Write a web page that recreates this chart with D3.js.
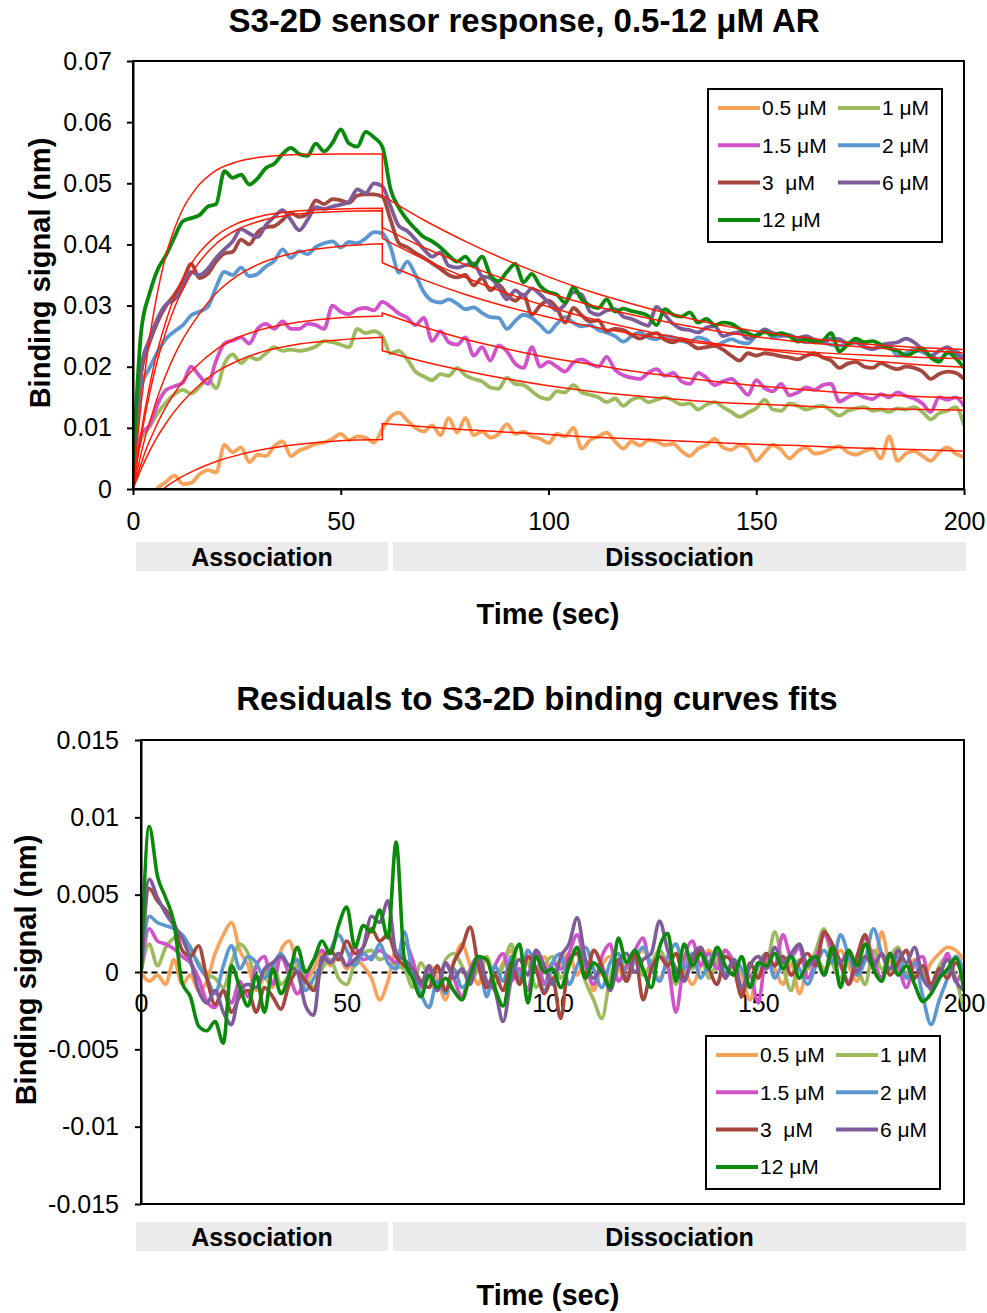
<!DOCTYPE html>
<html>
<head>
<meta charset="utf-8">
<script src="https://cdnjs.cloudflare.com/ajax/libs/d3/7.8.5/d3.min.js"></script>
<style>
  body { margin: 0; background: #fff; }
  svg { font-family: "Liberation Sans", Arial, sans-serif; }
</style>
</head>
<body>
<script>
// Concentrations and legend labels
let concLabels = ["0.5 μM", "1 μM", "1.5 μM", "2 μM", "3  μM", "6 μM", "12 μM"];

// Sample times (sec) for the measured traces and residuals
let sampleTimes = [0,2,4,6,8,10,12,14,16,18,20,22,24,26,28,30,32,34,36,38,
  40,42,44,46,48,50,52,54,56,58,60,62,64,66,68,70,72,74,76,78,
  80,82,84,86,88,90,92,94,96,98,100,102,104,106,108,110,112,114,116,118,
  120,122,124,126,128,130,132,134,136,138,140,142,144,146,148,150,152,154,156,158,
  160,162,164,166,168,170,172,174,176,178,180,182,184,186,188,190,192,194,196,198,200];

let resp05 = [-0.0040,-0.0030,-0.0015,0.0002,0.0012,0.0022,0.0008,0.0010,0.0024,0.0031,
  0.0027,0.0072,0.0060,0.0068,0.0044,0.0056,0.0054,0.0070,0.0078,0.0054,
  0.0063,0.0068,0.0074,0.0076,0.0082,0.0090,0.0080,0.0086,0.0084,0.0076,
  0.0098,0.0118,0.0125,0.0112,0.0100,0.0094,0.0104,0.0088,0.0116,0.0092,
  0.0116,0.0088,0.0094,0.0084,0.0090,0.0106,0.0090,0.0094,0.0086,0.0082,
  0.0075,0.0090,0.0086,0.0100,0.0066,0.0080,0.0086,0.0092,0.0078,0.0066,
  0.0078,0.0071,0.0080,0.0078,0.0072,0.0074,0.0062,0.0054,0.0066,0.0072,
  0.0082,0.0068,0.0064,0.0072,0.0066,0.0046,0.0060,0.0072,0.0064,0.0050,
  0.0062,0.0068,0.0058,0.0060,0.0066,0.0070,0.0060,0.0056,0.0062,0.0066,
  0.0050,0.0086,0.0046,0.0058,0.0062,0.0054,0.0046,0.0060,0.0068,0.0058,
  0.0052];
let resp1 = [0.0030,0.0082,0.0102,0.0125,0.0142,0.0155,0.0162,0.0156,0.0167,0.0180,
  0.0165,0.0205,0.0220,0.0206,0.0216,0.0212,0.0222,0.0232,0.0226,0.0228,
  0.0226,0.0228,0.0233,0.0242,0.0240,0.0236,0.0232,0.0262,0.0255,0.0258,
  0.0250,0.0222,0.0226,0.0212,0.0192,0.0184,0.0178,0.0188,0.0185,0.0198,
  0.0186,0.0180,0.0176,0.0166,0.0164,0.0182,0.0172,0.0170,0.0160,0.0150,
  0.0147,0.0160,0.0158,0.0170,0.0158,0.0154,0.0150,0.0142,0.0148,0.0136,
  0.0146,0.0150,0.0142,0.0146,0.0150,0.0145,0.0138,0.0140,0.0130,0.0138,
  0.0142,0.0134,0.0126,0.0118,0.0125,0.0132,0.0146,0.0130,0.0128,0.0140,
  0.0136,0.0130,0.0134,0.0136,0.0128,0.0120,0.0128,0.0132,0.0134,0.0128,
  0.0130,0.0126,0.0132,0.0130,0.0134,0.0126,0.0114,0.0124,0.0128,0.0134,
  0.0104];
let resp15 = [0.0020,0.0088,0.0105,0.0140,0.0162,0.0168,0.0174,0.0200,0.0185,0.0172,
  0.0210,0.0238,0.0243,0.0248,0.0238,0.0262,0.0270,0.0262,0.0274,0.0262,
  0.0262,0.0270,0.0268,0.0262,0.0300,0.0290,0.0286,0.0294,0.0296,0.0292,
  0.0306,0.0298,0.0287,0.0280,0.0268,0.0280,0.0242,0.0258,0.0240,0.0236,
  0.0248,0.0218,0.0232,0.0210,0.0235,0.0225,0.0205,0.0198,0.0232,0.0200,
  0.0208,0.0200,0.0192,0.0207,0.0212,0.0205,0.0200,0.0216,0.0195,0.0186,
  0.0182,0.0180,0.0190,0.0196,0.0185,0.0190,0.0176,0.0172,0.0190,0.0182,
  0.0170,0.0176,0.0180,0.0168,0.0154,0.0178,0.0165,0.0160,0.0172,0.0153,
  0.0158,0.0166,0.0162,0.0170,0.0172,0.0143,0.0150,0.0156,0.0150,0.0147,
  0.0155,0.0150,0.0158,0.0152,0.0148,0.0140,0.0126,0.0150,0.0146,0.0150,
  0.0136];
let resp2 = [0.0030,0.0168,0.0198,0.0225,0.0246,0.0258,0.0268,0.0284,0.0290,0.0298,
  0.0330,0.0355,0.0350,0.0362,0.0348,0.0352,0.0364,0.0373,0.0392,0.0378,
  0.0389,0.0384,0.0396,0.0402,0.0405,0.0395,0.0404,0.0402,0.0410,0.0420,
  0.0418,0.0395,0.0354,0.0372,0.0350,0.0322,0.0308,0.0305,0.0310,0.0303,
  0.0294,0.0297,0.0288,0.0281,0.0280,0.0262,0.0275,0.0285,0.0280,0.0268,
  0.0256,0.0270,0.0281,0.0272,0.0266,0.0268,0.0260,0.0256,0.0250,0.0241,
  0.0250,0.0256,0.0248,0.0245,0.0250,0.0248,0.0242,0.0240,0.0248,0.0244,
  0.0234,0.0240,0.0245,0.0240,0.0238,0.0252,0.0260,0.0248,0.0250,0.0252,
  0.0245,0.0240,0.0242,0.0240,0.0236,0.0234,0.0238,0.0240,0.0232,0.0229,
  0.0232,0.0234,0.0218,0.0222,0.0228,0.0224,0.0218,0.0212,0.0222,0.0226,
  0.0212];
let resp3 = [0.0030,0.0190,0.0240,0.0275,0.0300,0.0318,0.0340,0.0368,0.0345,0.0352,
  0.0372,0.0385,0.0388,0.0408,0.0400,0.0420,0.0428,0.0430,0.0440,0.0452,
  0.0445,0.0450,0.0472,0.0466,0.0474,0.0472,0.0468,0.0480,0.0482,0.0482,
  0.0478,0.0440,0.0402,0.0395,0.0386,0.0378,0.0369,0.0360,0.0350,0.0346,
  0.0350,0.0333,0.0345,0.0325,0.0334,0.0318,0.0308,0.0318,0.0285,0.0300,
  0.0308,0.0296,0.0272,0.0296,0.0284,0.0274,0.0276,0.0258,0.0262,0.0260,
  0.0252,0.0246,0.0252,0.0255,0.0244,0.0240,0.0245,0.0238,0.0230,0.0232,
  0.0234,0.0228,0.0218,0.0210,0.0222,0.0218,0.0222,0.0220,0.0217,0.0215,
  0.0212,0.0218,0.0222,0.0215,0.0210,0.0198,0.0205,0.0208,0.0200,0.0198,
  0.0206,0.0200,0.0196,0.0200,0.0198,0.0192,0.0180,0.0188,0.0192,0.0190,
  0.0180];
let resp6 = [0.0040,0.0200,0.0245,0.0280,0.0302,0.0310,0.0330,0.0355,0.0350,0.0360,
  0.0378,0.0392,0.0405,0.0425,0.0418,0.0412,0.0432,0.0445,0.0456,0.0440,
  0.0423,0.0440,0.0461,0.0458,0.0462,0.0465,0.0470,0.0490,0.0484,0.0500,
  0.0495,0.0462,0.0430,0.0422,0.0408,0.0392,0.0380,0.0387,0.0365,0.0362,
  0.0366,0.0369,0.0348,0.0345,0.0330,0.0310,0.0325,0.0316,0.0328,0.0318,
  0.0305,0.0292,0.0302,0.0322,0.0318,0.0290,0.0285,0.0292,0.0294,0.0282,
  0.0278,0.0272,0.0267,0.0298,0.0285,0.0270,0.0262,0.0260,0.0256,0.0264,
  0.0266,0.0250,0.0254,0.0256,0.0246,0.0250,0.0261,0.0255,0.0252,0.0250,
  0.0247,0.0250,0.0244,0.0240,0.0246,0.0245,0.0238,0.0240,0.0233,0.0229,
  0.0235,0.0238,0.0240,0.0246,0.0240,0.0228,0.0218,0.0226,0.0232,0.0222,
  0.0212];
let resp12 = [0.0030,0.0260,0.0320,0.0360,0.0383,0.0412,0.0438,0.0443,0.0448,0.0462,
  0.0466,0.0520,0.0509,0.0514,0.0498,0.0508,0.0525,0.0532,0.0548,0.0558,
  0.0548,0.0545,0.0565,0.0552,0.0566,0.0588,0.0565,0.0560,0.0584,0.0575,
  0.0560,0.0490,0.0460,0.0440,0.0425,0.0412,0.0405,0.0395,0.0382,0.0372,
  0.0380,0.0365,0.0380,0.0350,0.0340,0.0355,0.0368,0.0338,0.0352,0.0332,
  0.0322,0.0318,0.0305,0.0330,0.0310,0.0300,0.0296,0.0310,0.0290,0.0295,
  0.0291,0.0288,0.0283,0.0268,0.0294,0.0285,0.0282,0.0289,0.0272,0.0278,
  0.0268,0.0272,0.0270,0.0262,0.0255,0.0250,0.0257,0.0252,0.0255,0.0250,
  0.0241,0.0245,0.0240,0.0243,0.0255,0.0225,0.0236,0.0246,0.0240,0.0242,
  0.0236,0.0230,0.0226,0.0218,0.0224,0.0230,0.0215,0.0208,0.0224,0.0214,
  0.0198];

// Fitted binding curves (nm): association phase, then dissociation phase
let fitAssocTimes = [0,1,2,3,4,5,6,8,10,12,15,20,25,30,40,50,60];
let fitAssoc05 = [-0.0040,-0.0035,-0.0030,-0.0024,-0.0019,-0.0013,-0.0008,0.0004,0.0013,0.0021,0.0031,0.0045,0.0055,0.0063,0.0073,0.0079,0.0081];
let fitAssoc1  = [0,0.0017,0.0033,0.0048,0.0062,0.0075,0.0087,0.0108,0.0127,0.0143,0.0164,0.0191,0.0209,0.0222,0.0237,0.0244,0.0248];
let fitAssoc15 = [0,0.0022,0.0042,0.0062,0.0079,0.0094,0.0109,0.0135,0.0157,0.0176,0.0199,0.0228,0.0247,0.0259,0.0273,0.0280,0.0283];
let fitAssoc2  = [0,0.0030,0.0059,0.0086,0.0109,0.0131,0.0152,0.0188,0.0219,0.0245,0.0277,0.0320,0.0348,0.0367,0.0388,0.0397,0.0401];
let fitAssoc3  = [0,0.0045,0.0086,0.0123,0.0156,0.0186,0.0213,0.0259,0.0297,0.0327,0.0362,0.0401,0.0424,0.0437,0.0450,0.0454,0.0455];
let fitAssoc6  = [0,0.0050,0.0094,0.0134,0.0169,0.0201,0.0229,0.0276,0.0315,0.0345,0.0378,0.0414,0.0434,0.0445,0.0455,0.0458,0.0459];
let fitAssoc12 = [0,0.0076,0.0142,0.0198,0.0247,0.0289,0.0325,0.0384,0.0426,0.0458,0.0490,0.0521,0.0535,0.0542,0.0547,0.0548,0.0548];

let fitDissTimes = [60,70,80,90,100,110,120,130,140,150,160,170,180,190,200];
let fitDiss05 = [0.0107,0.0102,0.0097,0.0093,0.0089,0.0085,0.0082,0.0079,0.0076,0.0073,0.0071,0.0068,0.0066,0.0064,0.0062];
let fitDiss1  = [0.0226,0.0208,0.0193,0.0180,0.0169,0.0160,0.0153,0.0147,0.0142,0.0139,0.0136,0.0133,0.0131,0.0130,0.0129];
let fitDiss15 = [0.0288,0.0265,0.0245,0.0229,0.0215,0.0204,0.0193,0.0184,0.0176,0.0169,0.0163,0.0158,0.0154,0.0151,0.0149];
let fitDiss2  = [0.0370,0.0342,0.0318,0.0298,0.0281,0.0266,0.0254,0.0244,0.0236,0.0230,0.0225,0.0221,0.0218,0.0215,0.0213];
let fitDiss3  = [0.0410,0.0376,0.0346,0.0320,0.0298,0.0279,0.0263,0.0249,0.0238,0.0229,0.0221,0.0214,0.0208,0.0203,0.0199];
let fitDiss6  = [0.0428,0.0395,0.0367,0.0342,0.0320,0.0301,0.0285,0.0271,0.0259,0.0249,0.0241,0.0235,0.0230,0.0226,0.0223];
let fitDiss12 = [0.0480,0.0440,0.0405,0.0374,0.0347,0.0323,0.0303,0.0285,0.0270,0.0258,0.0249,0.0241,0.0235,0.0231,0.0228];

// Residuals to the fits (nm)
let resid05 = [0.0000,-0.0006,-0.0002,-0.0008,0.0008,-0.0008,-0.0002,-0.0012,-0.0006,0.0012,
  0.0024,0.0032,0.0014,0.0004,-0.0012,-0.0004,-0.0010,0.0014,0.0020,0.0004,
  -0.0006,0.0002,0.0012,0.0004,0.0010,0.0002,0.0008,0.0004,-0.0004,-0.0018,
  -0.0006,0.0014,0.0008,0.0002,-0.0010,0.0004,-0.0004,-0.0018,0.0006,0.0018,
  0.0004,-0.0008,0.0010,-0.0004,0.0006,0.0014,-0.0006,0.0008,0.0002,0.0010,
  -0.0004,0.0006,0.0012,-0.0002,0.0008,-0.0012,0.0004,0.0010,0.0002,-0.0006,
  0.0008,0.0014,0.0004,-0.0004,0.0006,0.0012,0.0002,-0.0008,0.0004,0.0014,
  0.0006,-0.0004,0.0008,-0.0002,-0.0018,0.0004,0.0012,0.0002,-0.0008,0.0006,
  -0.0014,0.0004,0.0010,0.0002,0.0008,0.0014,0.0004,-0.0006,0.0010,0.0002,
  0.0026,0.0006,0.0012,-0.0002,0.0008,-0.0004,0.0006,0.0012,0.0016,0.0014,
  0.0008];
let resid1 = [0.0000,0.0018,0.0004,0.0016,0.0022,0.0024,0.0014,0.0006,-0.0002,-0.0004,
  -0.0010,0.0006,0.0018,0.0012,-0.0004,-0.0002,0.0006,-0.0008,-0.0002,0.0004,
  -0.0004,-0.0010,0.0002,0.0008,-0.0004,-0.0008,0.0006,0.0012,0.0014,0.0008,
  0.0010,0.0004,0.0002,-0.0010,0.0006,-0.0004,-0.0012,0.0008,0.0012,0.0004,
  -0.0006,0.0002,0.0010,-0.0008,0.0004,0.0018,-0.0002,0.0006,-0.0010,0.0004,
  0.0010,-0.0004,0.0006,0.0014,-0.0006,-0.0018,-0.0030,-0.0004,0.0008,0.0002,
  0.0012,-0.0002,0.0006,0.0014,0.0004,-0.0008,0.0010,0.0002,0.0012,-0.0004,
  0.0006,0.0014,0.0002,-0.0014,0.0004,0.0010,0.0006,0.0026,0.0004,-0.0012,
  0.0008,0.0002,0.0014,0.0028,0.0006,-0.0004,0.0010,0.0004,-0.0008,0.0014,
  0.0002,0.0010,0.0016,-0.0004,0.0006,0.0000,-0.0008,0.0004,0.0010,-0.0004,
  -0.0024];
let resid15 = [0.0000,0.0028,0.0020,0.0018,0.0015,0.0010,0.0006,-0.0004,-0.0019,-0.0023,
  -0.0012,-0.0020,-0.0006,-0.0016,0.0004,0.0010,-0.0008,0.0010,-0.0002,-0.0014,
  -0.0004,0.0008,0.0014,0.0006,0.0012,0.0004,0.0016,0.0008,0.0010,0.0014,
  0.0010,0.0006,0.0019,0.0008,-0.0010,0.0002,-0.0012,0.0006,-0.0004,-0.0016,
  0.0002,0.0010,-0.0010,0.0004,0.0012,-0.0006,0.0002,-0.0012,0.0014,-0.0008,
  0.0006,0.0002,0.0012,0.0024,0.0004,-0.0008,0.0010,0.0018,-0.0006,0.0004,
  0.0014,0.0022,0.0002,0.0010,0.0004,-0.0026,0.0008,0.0020,0.0004,0.0012,
  0.0002,0.0014,0.0006,-0.0012,-0.0002,-0.0020,0.0010,0.0004,0.0024,0.0010,
  0.0016,-0.0004,0.0008,0.0024,0.0014,0.0004,-0.0006,0.0010,0.0022,0.0008,
  -0.0004,0.0012,0.0004,-0.0010,0.0006,0.0010,-0.0012,-0.0004,0.0012,-0.0006,
  0.0004];
let resid2 = [0.0000,0.0036,0.0032,0.0030,0.0028,0.0024,0.0016,0.0004,-0.0004,-0.0014,
  0.0004,0.0017,0.0002,0.0010,0.0006,-0.0004,0.0004,0.0012,0.0004,0.0008,
  -0.0012,-0.0004,0.0006,0.0014,0.0024,0.0014,0.0004,0.0012,0.0008,0.0018,
  0.0006,0.0002,0.0026,-0.0002,-0.0014,-0.0023,-0.0006,-0.0014,0.0002,-0.0010,
  -0.0004,0.0008,-0.0016,0.0004,-0.0006,0.0010,-0.0004,0.0014,0.0002,-0.0012,
  0.0006,0.0012,-0.0008,0.0004,0.0016,0.0002,-0.0010,0.0006,0.0012,-0.0004,
  0.0008,0.0016,0.0004,-0.0006,0.0010,0.0018,0.0002,0.0012,-0.0004,0.0006,
  0.0014,-0.0002,0.0008,0.0002,-0.0010,0.0004,0.0012,-0.0004,0.0006,0.0010,
  0.0002,-0.0008,0.0004,0.0014,0.0006,0.0024,0.0010,-0.0002,0.0008,0.0028,
  0.0012,0.0002,0.0010,-0.0004,0.0006,-0.0016,-0.0034,-0.0018,-0.0004,0.0010,
  0.0000];
let resid3 = [0.0000,0.0054,0.0046,0.0040,0.0032,0.0014,0.0010,0.0017,-0.0004,-0.0021,
  -0.0012,-0.0026,-0.0016,-0.0012,-0.0026,-0.0010,-0.0016,-0.0024,-0.0008,0.0000,
  -0.0006,-0.0012,0.0008,0.0014,0.0008,0.0020,0.0012,0.0016,0.0028,0.0020,
  0.0024,0.0010,0.0004,0.0002,-0.0006,-0.0010,0.0004,-0.0012,0.0006,0.0016,
  0.0029,0.0004,-0.0010,-0.0002,-0.0012,0.0006,-0.0008,0.0010,0.0002,-0.0014,
  -0.0004,-0.0030,0.0008,0.0012,-0.0004,0.0014,0.0004,-0.0010,0.0008,-0.0006,
  0.0012,-0.0018,0.0002,0.0010,0.0004,0.0012,-0.0004,0.0008,0.0014,0.0002,
  -0.0008,0.0010,0.0004,-0.0016,0.0006,-0.0004,0.0012,0.0004,0.0010,-0.0002,
  0.0006,0.0012,0.0004,0.0026,0.0018,0.0006,-0.0008,0.0010,0.0024,0.0004,
  0.0012,-0.0002,0.0006,0.0014,-0.0004,0.0004,-0.0008,0.0002,-0.0004,0.0006,
  -0.0006];
let resid6 = [0.0000,0.0060,0.0048,0.0038,0.0030,0.0022,0.0008,-0.0012,-0.0020,-0.0012,
  -0.0026,-0.0034,-0.0012,-0.0008,-0.0010,0.0002,0.0006,0.0010,0.0004,0.0000,
  -0.0022,-0.0028,0.0010,0.0006,0.0012,0.0004,0.0008,0.0016,0.0036,0.0032,
  0.0046,0.0012,0.0008,0.0002,-0.0008,0.0004,-0.0012,0.0006,-0.0004,0.0002,
  -0.0008,0.0010,-0.0006,-0.0012,-0.0032,-0.0004,0.0008,-0.0002,0.0014,0.0004,
  -0.0008,0.0010,0.0018,0.0035,0.0008,-0.0004,0.0002,-0.0012,0.0006,0.0012,
  0.0000,0.0008,0.0012,0.0033,0.0014,0.0002,-0.0006,0.0010,0.0016,0.0004,
  0.0012,-0.0004,0.0008,-0.0010,0.0004,0.0010,0.0002,0.0016,0.0006,0.0012,
  0.0018,0.0004,0.0008,-0.0002,0.0012,0.0006,0.0014,0.0000,0.0010,0.0004,
  0.0012,0.0002,0.0014,0.0006,0.0016,-0.0004,-0.0010,-0.0002,0.0008,-0.0006,
  -0.0012];
let resid12 = [0.0000,0.0094,0.0062,0.0048,0.0032,-0.0007,-0.0016,-0.0035,-0.0038,-0.0032,
  -0.0046,0.0004,-0.0010,-0.0022,-0.0002,-0.0026,0.0002,-0.0014,-0.0002,0.0016,
  0.0000,0.0008,0.0020,0.0012,0.0030,0.0042,0.0016,0.0030,0.0026,0.0040,
  0.0022,0.0084,0.0008,-0.0004,-0.0016,-0.0002,-0.0010,-0.0004,-0.0012,-0.0018,
  -0.0002,0.0010,0.0008,-0.0010,-0.0022,0.0004,0.0018,-0.0020,0.0010,0.0000,
  0.0002,-0.0010,0.0004,0.0016,-0.0004,0.0006,0.0000,-0.0010,0.0022,0.0006,
  0.0014,0.0002,-0.0010,0.0016,0.0025,-0.0006,0.0018,0.0004,0.0012,0.0002,
  0.0016,0.0004,-0.0002,0.0010,-0.0010,0.0006,0.0004,0.0012,0.0002,0.0010,
  -0.0004,0.0006,0.0010,-0.0002,0.0016,-0.0010,0.0014,0.0004,0.0018,0.0002,
  -0.0006,0.0012,-0.0002,0.0004,-0.0008,-0.0019,-0.0014,-0.0004,0.0002,0.0009,
  -0.0012];

// Axis ticks
let xTicks = [0, 50, 100, 150, 200];
let yTicksTop = [0, 0.01, 0.02, 0.03, 0.04, 0.05, 0.06, 0.07];
let yTicksBottom = [-0.015, -0.01, -0.005, 0, 0.005, 0.01, 0.015];
let phaseLabels = ["Association", "Dissociation"];

// Colours per concentration
let concColors = ["#F9A25A", "#9DBB5E", "#D152C9", "#5B98D1", "#A6473F", "#7C5D99", "#0A8A0A"];
let fitColor = "#FF1A00";

let respValues = [resp05, resp1, resp15, resp2, resp3, resp6, resp12];
let fitAssocValues = [fitAssoc05, fitAssoc1, fitAssoc15, fitAssoc2, fitAssoc3, fitAssoc6, fitAssoc12];
let fitDissValues = [fitDiss05, fitDiss1, fitDiss15, fitDiss2, fitDiss3, fitDiss6, fitDiss12];
let residValues = [resid05, resid1, resid15, resid2, resid3, resid6, resid12];

let series = concLabels.map((label, i) => ({
    label: label,
    color: concColors[i],
    resp: d3.zip(sampleTimes, respValues[i]),
    fitA: d3.zip(fitAssocTimes, fitAssocValues[i]),
    fitD: d3.zip(fitDissTimes, fitDissValues[i]),
    resid: d3.zip(sampleTimes, residValues[i])
}));

let svg = d3.select("body")
    .append("svg")
    .attr("width", 987)
    .attr("height", 1313);

let fmt = d => String(+d.toFixed(3));

// ---------- Top panel: sensor response ----------
let topBox = { left: 133, right: 964, top: 61, bottom: 489 };
let xTop = d3.scaleLinear().domain([0, 200]).range([topBox.left, topBox.right]);
let yTop = d3.scaleLinear().domain([0, 0.07]).range([topBox.bottom, topBox.top]);

svg.append("clipPath").attr("id", "clipTop")
    .append("rect")
    .attr("x", topBox.left).attr("y", topBox.top)
    .attr("width", topBox.right - topBox.left).attr("height", topBox.bottom - topBox.top);

let lineTop = d3.line().x(d => xTop(d[0])).y(d => yTop(d[1])).curve(d3.curveMonotoneX);

let tracesTop = svg.append("g").attr("clip-path", "url(#clipTop)");
series.forEach(s => {
    tracesTop.append("path")
        .attr("d", lineTop(s.resp))
        .attr("fill", "none")
        .attr("stroke", s.color)
        .attr("stroke-width", 3.8)
        .attr("stroke-linejoin", "round");
});
series.forEach(s => {
    // association curve, vertical step at the end of injection, then dissociation curve
    let dA = lineTop(s.fitA);
    let dD = lineTop(s.fitD);
    tracesTop.append("path")
        .attr("d", dA + "L" + dD.slice(1))
        .attr("fill", "none")
        .attr("stroke", fitColor)
        .attr("stroke-width", 1.5);
});

// frame and axes
svg.append("rect")
    .attr("x", topBox.left).attr("y", topBox.top)
    .attr("width", topBox.right - topBox.left).attr("height", topBox.bottom - topBox.top)
    .attr("fill", "none").attr("stroke", "#000").attr("stroke-width", 2);

let yAxisTop = svg.append("g")
    .attr("transform", `translate(${topBox.left},0)`)
    .call(d3.axisLeft(yTop).tickValues(yTicksTop).tickFormat(fmt).tickSize(6).tickSizeOuter(0).tickPadding(15));
let xAxisTop = svg.append("g")
    .attr("transform", `translate(0,${topBox.bottom})`)
    .call(d3.axisBottom(xTop).tickValues(xTicks).tickSize(6).tickSizeOuter(0).tickPadding(17));

[yAxisTop, xAxisTop].forEach(a => {
    a.selectAll("path").attr("stroke", "#000").attr("stroke-width", 2);
    a.selectAll("line").attr("stroke", "#000").attr("stroke-width", 2);
    a.selectAll("text").attr("font-size", 25).attr("fill", "#000").attr("font-family", "Liberation Sans, Arial, sans-serif");
});

// ---------- Bottom panel: residuals ----------
let botBox = { left: 141, right: 964, top: 740, bottom: 1204 };
let xBot = d3.scaleLinear().domain([0, 200]).range([botBox.left, botBox.right]);
let yBot = d3.scaleLinear().domain([-0.015, 0.015]).range([botBox.bottom, botBox.top]);

svg.append("clipPath").attr("id", "clipBot")
    .append("rect")
    .attr("x", botBox.left).attr("y", botBox.top)
    .attr("width", botBox.right - botBox.left).attr("height", botBox.bottom - botBox.top);

// dashed zero axis with its labels
let xAxisBot = svg.append("g")
    .attr("transform", `translate(0,${yBot(0)})`)
    .call(d3.axisBottom(xBot).tickValues(xTicks).tickSize(0).tickSizeOuter(0).tickPadding(22));
xAxisBot.select("path").attr("stroke", "#000").attr("stroke-width", 1.8).attr("stroke-dasharray", "6,4");
xAxisBot.selectAll("text").attr("font-size", 25).attr("fill", "#000").attr("font-family", "Liberation Sans, Arial, sans-serif");

let lineBot = d3.line().x(d => xBot(d[0])).y(d => yBot(d[1])).curve(d3.curveMonotoneX);
let tracesBot = svg.append("g").attr("clip-path", "url(#clipBot)");
series.forEach(s => {
    tracesBot.append("path")
        .attr("d", lineBot(s.resid))
        .attr("fill", "none")
        .attr("stroke", s.color)
        .attr("stroke-width", 3.6)
        .attr("stroke-linejoin", "round");
});

svg.append("rect")
    .attr("x", botBox.left).attr("y", botBox.top)
    .attr("width", botBox.right - botBox.left).attr("height", botBox.bottom - botBox.top)
    .attr("fill", "none").attr("stroke", "#000").attr("stroke-width", 2);

let yAxisBot = svg.append("g")
    .attr("transform", `translate(${botBox.left},0)`)
    .call(d3.axisLeft(yBot).tickValues(yTicksBottom).tickFormat(fmt).tickSize(6).tickSizeOuter(0).tickPadding(16));
yAxisBot.selectAll("path").attr("stroke", "#000").attr("stroke-width", 2);
yAxisBot.selectAll("line").attr("stroke", "#000").attr("stroke-width", 2);
yAxisBot.selectAll("text").attr("font-size", 25).attr("fill", "#000").attr("font-family", "Liberation Sans, Arial, sans-serif");

// ---------- Legends ----------
function drawLegend(x0, y0) {
    let g = svg.append("g").attr("transform", `translate(${x0},${y0})`);
    g.append("rect")
        .attr("width", 234).attr("height", 153)
        .attr("fill", "#fff").attr("stroke", "#000").attr("stroke-width", 2);
    series.forEach((s, i) => {
        let lx = 10 + (i % 2) * 120;
        let ly = 19 + Math.floor(i / 2) * 37.3;
        g.append("line")
            .attr("x1", lx).attr("x2", lx + 42)
            .attr("y1", ly).attr("y2", ly)
            .attr("stroke", s.color).attr("stroke-width", 4);
        g.append("text")
            .attr("x", lx + 44).attr("y", ly).attr("dy", "0.35em")
            .attr("font-size", 21)
            .style("white-space", "pre")
            .text(s.label);
    });
}
drawLegend(708, 89);
drawLegend(706, 1036);

// ---------- Phase bands ----------
function drawBands(y) {
    let spans = [[136, 388], [393, 966]];
    phaseLabels.forEach((lab, i) => {
        svg.append("rect")
            .attr("x", spans[i][0]).attr("y", y)
            .attr("width", spans[i][1] - spans[i][0]).attr("height", 29)
            .attr("fill", "#EBEBEB");
        svg.append("text")
            .attr("x", (spans[i][0] + spans[i][1]) / 2).attr("y", y + 15).attr("dy", "0.35em")
            .attr("text-anchor", "middle")
            .attr("font-size", 25).attr("font-weight", "bold")
            .text(lab);
    });
}
drawBands(542);
drawBands(1222);

// ---------- Titles ----------
function title(txt, x, y, size) {
    svg.append("text")
        .attr("x", x).attr("y", y)
        .attr("text-anchor", "middle")
        .attr("font-size", size).attr("font-weight", "bold")
        .text(txt);
}
title("S3-2D sensor response, 0.5-12 μM AR", 524, 32, 33);
title("Residuals to S3-2D binding curves fits", 537, 710, 33);
title("Time (sec)", 548, 624, 29);
title("Time (sec)", 548, 1305, 29);

function yTitle(x, y) {
    svg.append("text")
        .attr("transform", `translate(${x},${y}) rotate(-90)`)
        .attr("text-anchor", "middle")
        .attr("dy", "0.35em")
        .attr("font-size", 29).attr("font-weight", "bold")
        .text("Binding signal (nm)");
}
yTitle(40, 273);
yTitle(26, 970);
</script>
</body>
</html>
